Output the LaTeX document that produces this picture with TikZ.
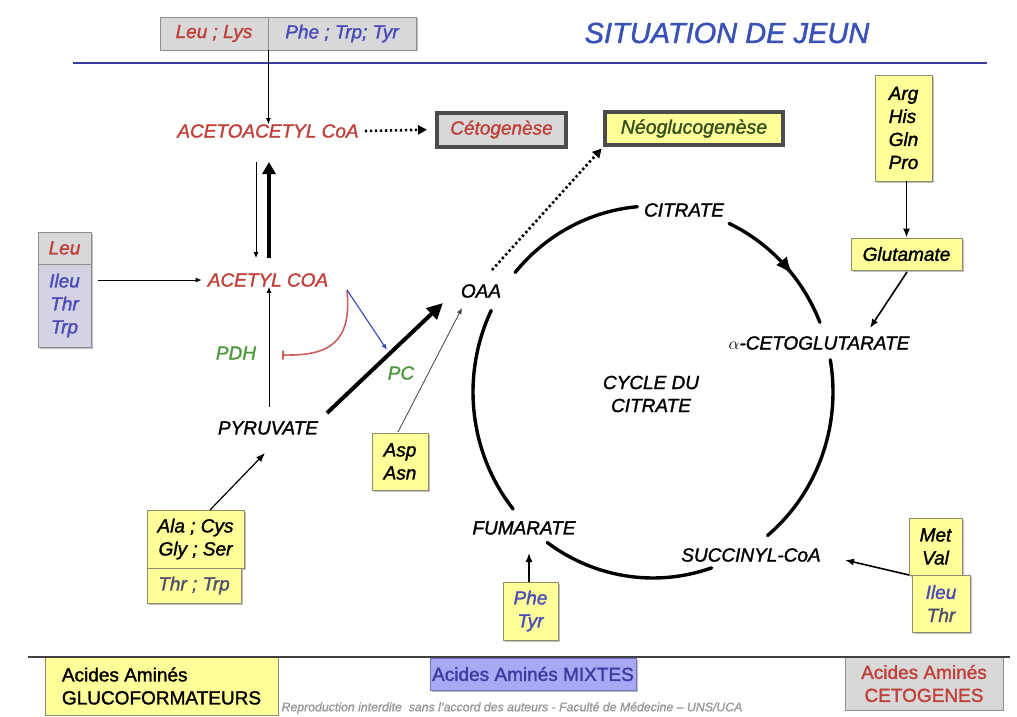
\documentclass[tikz,border=0pt]{standalone}
\usepackage{fontspec}
\setmainfont{Liberation Sans}[FakeBold=1.5]
\usetikzlibrary{arrows.meta,shadows}
\definecolor{txtred}{HTML}{C0403A}
\definecolor{txtblue}{HTML}{4A4AB8}
\definecolor{txtslate}{HTML}{50506E}
\definecolor{txtgreen}{HTML}{4C9A3C}
\definecolor{titleblue}{HTML}{3A52B5}
\definecolor{lineblue}{HTML}{3B3BA0}
\definecolor{boxyellow}{HTML}{FFFF9A}
\definecolor{boxborder}{HTML}{8C8C72}
\definecolor{boxgray}{HTML}{D8D8D8}
\definecolor{boxgraybl}{HTML}{D2D2E2}
\definecolor{grayborder}{HTML}{8E8E8E}
\definecolor{mixfill}{HTML}{A8A8F4}
\definecolor{mixborder}{HTML}{7474C4}
\definecolor{inhred}{HTML}{C86060}
\definecolor{pcblue}{HTML}{3C4FC0}
\definecolor{wmgray}{HTML}{9A9A9A}
\definecolor{neogreen}{HTML}{34501C}
\begin{document}
\begin{tikzpicture}[x=1pt,y=-1pt,
  lab/.style={font=\fontsize{19}{23}\selectfont\itshape, inner sep=0pt},
  anybox/.style={inner sep=0pt, line width=0.8pt, font=\fontsize{19}{23}\selectfont\itshape, align=center},
  shad/.style={drop shadow={shadow xshift=1.5pt, shadow yshift=-1.5pt, opacity=0.25, fill=black}},
  ybox/.style={anybox, draw=boxborder, fill=boxyellow, shad},
  gbox/.style={anybox, draw=grayborder, fill=boxgray, shad},
  procbox/.style={anybox, draw=black!70, line width=4pt},
  thinarr/.style={line width=0.8pt, -{Latex[length=6pt,width=5pt]}},
  medarr/.style={line width=1.6pt, -{Latex[length=9pt,width=7pt]}},
  thickarr/.style={line width=4pt, -{Triangle[length=16pt,width=15pt]}},
  dotarr/.style={line width=2.6pt, dash pattern=on 2.4pt off 2.6pt, -{Triangle[length=9pt,width=9pt]}},
  cyc/.style={line width=3.4pt, line cap=round}
]
\useasboundingbox (0,0) rectangle (1017,717);
\fill[white] (0,0) rectangle (1017,717);

% header
\node[gbox, minimum width=108pt, minimum height=33pt, text=txtred] (leulys) at (214,33.5) {Leu ; Lys};
\node[gbox, minimum width=148pt, minimum height=33pt, text=txtblue] (phetrptyr) at (342,33.5) {Phe ; Trp; Tyr};
\node[lab, text=titleblue, font=\fontsize{29}{33}\selectfont\itshape] (title) at (727,33) {SITUATION DE JEUN};
\coordinate (blA) at (73,63);
\coordinate (blB) at (987,63);
\draw[line width=2pt, lineblue] (blA) -- (blB);

% main labels
\node[lab, text=txtred] (acetoacetyl) at (268,131) {ACETOACETYL CoA};
\node[lab, text=txtred] (acetyl) at (268,280) {ACETYL COA};
\node[lab, text=txtgreen] (pdh) at (236,353) {PDH};
\node[lab, text=txtgreen] (pc) at (401,373) {PC};
\node[lab] (pyruvate) at (268,428) {PYRUVATE};
\node[lab] (oaa) at (481,291) {OAA};
\node[lab] (citrate) at (684,210) {CITRATE};
\node[lab] (akg) at (819,343) {$\alpha$-CETOGLUTARATE};
\node[lab, align=center] (cycle) at (651,394) {CYCLE DU\\CITRATE};
\node[lab] (succinyl) at (751,555) {SUCCINYL-CoA};
\node[lab] (fumarate) at (524,528) {FUMARATE};

% process boxes
\node[procbox, fill=boxgray, text=txtred, minimum width=129pt, minimum height=34pt] (ceto) at (501.5,129.5) {Cétogenèse};
\node[procbox, fill=boxyellow, text=neogreen, font=\fontsize{19.5}{23}\selectfont\itshape, minimum width=178pt, minimum height=33pt] (neo) at (694,128.5) {Néoglucogenèse};

% amino-acid boxes
\node[gbox, text=txtred, minimum width=53pt, minimum height=32pt] (leu) at (64.5,248) {Leu};
\node[gbox, fill=boxgraybl, text=txtblue, minimum width=53pt, minimum height=83pt] (ileu) at (64.5,305.5) {Ileu\\Thr\\Trp};
\node[ybox, minimum width=56pt, minimum height=57pt] (asp) at (400,461.5) {Asp\\Asn};
\node[ybox, minimum width=97pt, minimum height=58pt] (ala) at (195.5,539) {Ala ; Cys\\Gly ; Ser};
\node[ybox, text=txtslate, minimum width=94pt, minimum height=35pt] (thrtrp) at (194,585.5) {Thr ; Trp};
\node[ybox, align=left, minimum width=57pt, minimum height=106pt] (arg) at (903.5,128) {Arg\\His\\Gln\\Pro};
\node[ybox, minimum width=111pt, minimum height=32pt] (glut) at (906.5,254) {Glutamate};
\node[ybox, text=txtblue, minimum width=55pt, minimum height=58pt] (phetyr) at (530.5,611) {Phe\\Tyr};
\node[ybox, minimum width=53pt, minimum height=57pt] (metval) at (935.5,546.5) {Met\\Val};
\node[ybox, minimum width=58pt, minimum height=57pt, align=center] (ileuthr) at (941,603.5) {\textcolor{txtblue}{Ileu}\\\textcolor{txtslate}{Thr}};

% bottom legend
\coordinate (bkA) at (28,657);
\coordinate (bkB) at (1010,657);
\node[anybox, draw=boxborder, fill=boxyellow, align=left, font=\fontsize{19}{23}\selectfont, minimum width=233pt, minimum height=58pt] (glucof) at (161.5,686) {Acides Aminés\\GLUCOFORMATEURS};
\node[anybox, draw=mixborder, fill=mixfill, text=lineblue, font=\fontsize{19}{23}\selectfont, minimum width=206pt, minimum height=32pt, shad] (mixtes) at (533,674) {Acides Aminés MIXTES};
\node[anybox, draw=grayborder, fill=boxgray, text=txtred, font=\fontsize{19}{23}\selectfont, minimum width=158pt, minimum height=53pt] (cetog) at (924,683.5) {Acides Aminés\\CETOGENES};
\draw[line width=2pt, black!75] (bkA) -- (bkB);
\node[lab, text=wmgray, font=\fontsize{12.3}{14}\selectfont\itshape] (wm) at (512,708) {Reproduction interdite\ \ sans l'accord des auteurs - Faculté de Médecine – UNS/UCA};

% connectors
\draw[thinarr] (leulys.south east) -- (leulys.south east |- acetoacetyl.north);
\draw[dotarr, shorten >=8pt] ([xshift=6pt]acetoacetyl.east) -- (ceto.west);

\coordinate (vA1) at (256,162);
\coordinate (vA2) at (256,258);
\coordinate (vB1) at (269,258);
\coordinate (vB2) at (269,162);
\draw[thinarr] (vA1) -- (vA2);
\draw[line width=4pt, -{Triangle[length=12pt,width=13pt]}] (vB1) -- (vB2);

\draw[thinarr] (ileu.east |- acetyl.west) ++(7,0) coordinate (lx) -- ([xshift=-6pt]acetyl.west);
\draw[thinarr] (pyruvate.north -| vB1) ++(0,-14) coordinate (py) -- (acetyl.south -| vB1);

\coordinate (ae) at (347,290);
\coordinate (pdhbar) at (282,355);
\coordinate (pcend) at (387,350);
\draw[inhred, line width=1.6pt, -{Bar[width=9pt,line width=2pt]}] (ae) .. controls (352,342) and (330,356) .. (pdhbar);
\draw[pcblue, line width=1.2pt, -{Latex[length=6pt,width=5pt]}] (ae) -- (pcend);

\coordinate (pyA) at (327,413);
\coordinate (oaaA) at (443,303);
\draw[thickarr] (pyA) -- (oaaA);
\coordinate (aspT) at (398,432);
\coordinate (oaaB) at (462,308);
\draw[thinarr, black!75] (aspT) -- (oaaB);
\coordinate (oaaC) at (492,270);
\draw[dotarr, shorten >=2pt] (oaaC) -- (neo.south west);
\coordinate (alaT) at (210,510);
\coordinate (pyB) at (265,453);
\draw[medarr, line width=1.2pt] (alaT) -- (pyB);

\draw[medarr] (arg.south -| glut.north) -- (glut.north);
\coordinate (glA) at (907,272);
\coordinate (akA) at (870,328);
\draw[medarr] (glA) -- (akA);
\coordinate (fuA) at (529,582);
\coordinate (fuB) at (529,553);
\draw[medarr] (fuA) -- (fuB);
\coordinate (mvA) at (909,575);
\coordinate (scA) at (845,560);
\draw[medarr] (mvA) -- (scA);

% citric acid cycle arcs (ellipse centre 653,392)
\draw[cyc] plot[domain=220:265, samples=30] ({653+180*cos(\x)},{392+186*sin(\x)});
\draw[cyc, -{Latex[length=18pt,width=14pt]}] plot[domain=295:321, samples=20] ({653+180*cos(\x)},{392+186*sin(\x)});
\draw[cyc] plot[domain=317:338, samples=20] ({653+180*cos(\x)},{392+186*sin(\x)});
\draw[cyc] plot[domain=-10:50.5, samples=40] ({653+180*cos(\x)},{392+186*sin(\x)});
\draw[cyc] plot[domain=71:126, samples=30] ({653+180*cos(\x)},{392+186*sin(\x)});
\draw[cyc] plot[domain=141:206, samples=40] ({653+180*cos(\x)},{392+186*sin(\x)});
\end{tikzpicture}
\end{document}
